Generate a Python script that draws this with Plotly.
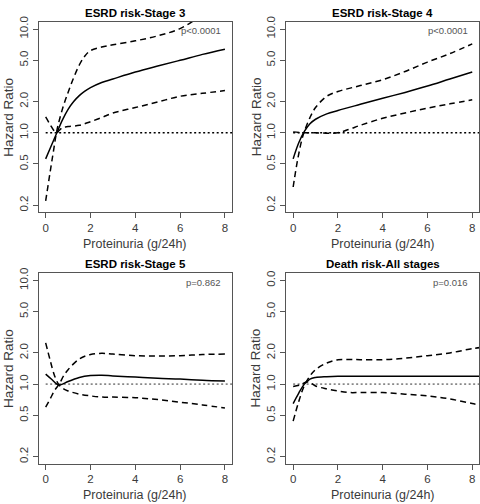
import plotly.graph_objects as go

W, H = 480, 504

titles = ["ESRD risk-Stage 3", "ESRD risk-Stage 4", "ESRD risk-Stage 5", "Death risk-All stages"]
pvals = ["p<0.0001", "p<0.0001", "p=0.862", "p=0.016"]

# Panel 1
p1_x = [0, 0.25, 0.5, 0.75, 1, 1.25, 1.5, 1.75, 2, 2.5, 3, 4, 5, 6, 7, 8]
p1_hr = [0.56, 0.75, 1.0, 1.33, 1.68, 2.0, 2.28, 2.52, 2.72, 3.05, 3.3, 3.85, 4.4, 5.0, 5.7, 6.4]
p1a_x = [0, 0.2, 0.4, 0.5, 0.6, 0.75, 1, 1.5, 2, 2.5, 3, 4, 5, 6, 7, 8]
p1a_y = [1.42, 1.2, 1.03, 1.0, 1.05, 1.12, 1.15, 1.18, 1.28, 1.4, 1.55, 1.75, 1.98, 2.25, 2.4, 2.55]
p1b_x = [0, 0.2, 0.35, 0.5, 0.75, 1, 1.25, 1.5, 1.75, 2, 2.5, 3, 4, 5, 6, 7, 8]
p1b_y = [0.22, 0.42, 0.67, 1.05, 1.7, 2.45, 3.4, 4.5, 5.5, 6.2, 6.7, 7.05, 7.7, 8.6, 10.1, 13.5, 17]

# Panel 2
p2_x = [0, 0.25, 0.5, 0.75, 1, 1.5, 2, 3, 4, 5, 6, 7, 8]
p2_hr = [0.56, 0.8, 1.03, 1.22, 1.35, 1.52, 1.64, 1.88, 2.15, 2.45, 2.82, 3.3, 3.85]
p2a_x = [0, 0.5, 1, 1.5, 2, 2.5, 3, 4, 5, 6, 7, 8]
p2a_y = [1.02, 1.0, 1.0, 0.99, 1.0, 1.08, 1.18, 1.38, 1.55, 1.73, 1.9, 2.08]
p2b_x = [0, 0.2, 0.4, 0.5, 0.75, 1, 1.5, 2, 3, 4, 5, 6, 7, 8]
p2b_y = [0.3, 0.55, 0.88, 1.03, 1.4, 1.75, 2.25, 2.5, 2.85, 3.25, 3.9, 4.8, 5.8, 7.2]

# Panel 3
p3_x = [0, 0.25, 0.5, 0.6, 0.75, 1, 1.5, 2, 2.5, 3, 4, 5, 6, 7, 8]
p3_hr = [1.25, 1.12, 1.0, 0.98, 1.0, 1.06, 1.16, 1.21, 1.22, 1.2, 1.17, 1.14, 1.12, 1.09, 1.07]
p3a_x = [0, 0.2, 0.4, 0.6, 0.8, 1, 1.5, 2, 2.5, 3, 4, 5, 6, 7, 8]
p3a_y = [2.5, 1.7, 1.2, 0.98, 0.9, 0.86, 0.8, 0.77, 0.75, 0.75, 0.74, 0.71, 0.67, 0.63, 0.59]
p3b_x = [0, 0.2, 0.4, 0.6, 0.8, 1, 1.5, 2, 2.5, 3, 4, 5, 6, 7, 8]
p3b_y = [0.6, 0.72, 0.87, 1.0, 1.2, 1.38, 1.75, 1.93, 1.98, 1.95, 1.88, 1.87, 1.88, 1.93, 1.95]

# Panel 4
p4_x = [0, 0.25, 0.5, 0.75, 1, 1.5, 2, 3, 4, 5, 6, 7, 8, 8.35]
p4_hr = [0.65, 0.82, 1.0, 1.12, 1.16, 1.18, 1.19, 1.19, 1.19, 1.19, 1.19, 1.19, 1.19, 1.19]
p4a_x = [0, 0.3, 0.6, 0.8, 1, 1.5, 2, 2.5, 3, 4, 5, 6, 7, 8, 8.35]
p4a_y = [0.95, 0.98, 1.05, 1.02, 0.96, 0.9, 0.86, 0.83, 0.83, 0.83, 0.8, 0.77, 0.72, 0.65, 0.63]
p4b_x = [0, 0.25, 0.5, 0.75, 1, 1.5, 2, 2.5, 3, 4, 5, 6, 7, 8, 8.35]
p4b_y = [0.44, 0.68, 0.97, 1.2, 1.38, 1.6, 1.72, 1.73, 1.72, 1.72, 1.78, 1.88, 2.0, 2.2, 2.25]

ref_x = [0, 8.32]
ref_y = [1, 1]

x_ticks = [0, 2, 4, 6, 8]
y_ticks = [0.2, 0.5, 1, 2, 5, 10]
y_ticktext = ["0.2", "0.5", "1.0", "2.0", "5.0", "10.0"]
y_ticktext4 = ["0.2", "0.5", "1.0", "2.0", "5.0", "0.0"]

panels = [
    (p1_x, p1_hr, p1a_x, p1a_y, p1b_x, p1b_y),
    (p2_x, p2_hr, p2a_x, p2a_y, p2b_x, p2b_y),
    (p3_x, p3_hr, p3a_x, p3a_y, p3b_x, p3b_y),
    (p4_x, p4_hr, p4a_x, p4a_y, p4b_x, p4b_y),
]
ref_colors = ["black", "black", "#888888", "#888888"]

# pixel boxes: left, right, top, bottom
boxes = [
    (38.5, 232.1, 16.2, 208.8),
    (286.0, 479.4, 16.2, 208.8),
    (38.5, 232.1, 270.6, 463.2),
    (286.0, 479.4, 270.6, 463.2),
]

def px(x):
    return x / W

def py(y):
    return 1 - y / H

fig = go.Figure()
font_family = "Liberation Sans, Arial, sans-serif"
axis_col = "#555555"
text_col = "#3a3a3a"

for i, (sx, sy, ax_, ay_, bx_, by_) in enumerate(panels):
    n = "" if i == 0 else str(i + 1)
    xa, ya = "x" + n, "y" + n
    fig.add_trace(go.Scatter(x=ref_x, y=ref_y, mode="lines", xaxis=xa, yaxis=ya,
                             line=dict(color=ref_colors[i], width=1.6, dash="2px,2.5px"), showlegend=False))
    fig.add_trace(go.Scatter(x=ax_, y=ay_, mode="lines", xaxis=xa, yaxis=ya, line_shape="spline",
                             line=dict(color="black", width=1.5, dash="6px,4px"), showlegend=False))
    fig.add_trace(go.Scatter(x=bx_, y=by_, mode="lines", xaxis=xa, yaxis=ya, line_shape="spline",
                             line=dict(color="black", width=1.5, dash="6px,4px"), showlegend=False))
    fig.add_trace(go.Scatter(x=sx, y=sy, mode="lines", xaxis=xa, yaxis=ya, line_shape="spline",
                             line=dict(color="black", width=1.5), showlegend=False))
    l, r, t, b = boxes[i]
    fig.update_layout(**{
        "xaxis" + n: dict(domain=[px(l), px(r)], range=[-0.32, 8.32], anchor=ya,
                          tickvals=x_ticks, ticks="outside", ticklen=5, tickcolor=axis_col,
                          showline=True, mirror=True, linecolor=axis_col, linewidth=1,
                          showgrid=False, zeroline=False,
                          tickfont=dict(size=11.5, color=text_col, family=font_family)),
        "yaxis" + n: dict(domain=[py(b), py(t)], type="log", range=[-0.767, 1.068], anchor=xa,
                          tickvals=y_ticks, ticktext=(y_ticktext4 if i == 3 else y_ticktext),
                          ticks="outside", ticklen=5, tickcolor=axis_col, tickangle=-90,
                          showline=True, mirror=True, linecolor=axis_col, linewidth=1,
                          showgrid=False, zeroline=False,
                          tickfont=dict(size=11.5, color=text_col, family=font_family)),
    })
    cx = (l + r) / 2
    fig.add_annotation(x=px(cx), y=py(t - 9), xref="paper", yref="paper", text="<b>" + titles[i] + "</b>",
                       showarrow=False, font=dict(size=11.5, color="black", family=font_family),
                       xanchor="center", yanchor="middle")
    fig.add_annotation(x=px(cx), y=py(b + 32), xref="paper", yref="paper", text="Proteinuria (g/24h)",
                       showarrow=False, font=dict(size=12.5, color=text_col, family=font_family),
                       xanchor="center", yanchor="middle")
    fig.add_annotation(x=px(l - 30), y=py((t + b) / 2), xref="paper", yref="paper", text="Hazard Ratio",
                       showarrow=False, textangle=-90, font=dict(size=13.5, color=text_col, family=font_family),
                       xanchor="center", yanchor="middle")
    fig.add_annotation(x=px(r - 9), y=py(t + 9), xref="paper", yref="paper", text=pvals[i],
                       showarrow=False, font=dict(size=9.5, color="#555555", family=font_family),
                       xanchor="right", yanchor="middle")

fig.update_layout(width=W, height=H, margin=dict(l=0, r=0, t=0, b=0),
                  paper_bgcolor="white", plot_bgcolor="white")
fig.write_html("out.html", config={"displayModeBar": False},
               post_script="document.body.style.margin='0';document.body.style.overflow='hidden';")
